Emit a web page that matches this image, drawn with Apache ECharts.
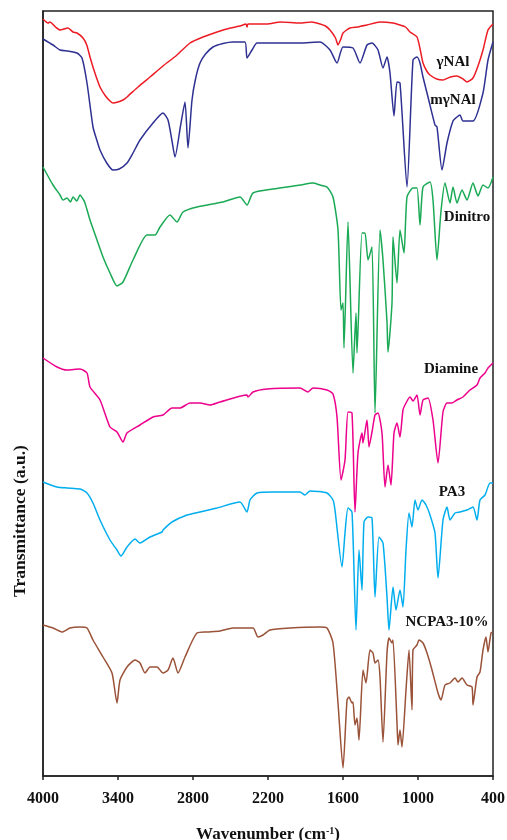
<!DOCTYPE html>
<html>
<head>
<meta charset="utf-8">
<script src="https://cdn.jsdelivr.net/npm/echarts@6/dist/echarts.min.js"></script>
<style>html,body{margin:0;padding:0;background:#fff}#c{width:507px;height:840px}</style>
</head>
<body>
<div id="c"></div>
<script>
// Wavenumber (cm-1) vs transmittance (arbitrary units, curves offset)
const xTicks = [4000, 3400, 2800, 2200, 1600, 1000, 400];
const seriesNames = ['γNAl', 'mγNAl', 'Dinitro', 'Diamine', 'PA3', 'NCPA3-10%'];

const gammaNAl = [[4000,151.4],[3960,150.6],[3944,150.8],[3900,149.8],[3864,149.2],[3800,149.6],[3760,148.8],[3728,148.6],[3680,147.6],[3650,146.2],[3624,143.8],[3590,141.0],[3544,137.8],[3500,136.0],[3460,134.9],[3440,134.6],[3400,134.8],[3360,135.2],[3328,135.8],[3240,137.8],[3144,139.8],[3040,142.0],[2928,144.2],[2824,146.6],[2720,147.8],[2608,148.8],[2500,149.6],[2424,150],[2376,150.4],[2368,149.8],[2360,150.4],[2208,150.4],[2100,150.8],[1944,150.6],[1850,150.8],[1784,150.4],[1740,150.0],[1704,149.2],[1660,147.6],[1640,146.2],[1620,147.2],[1600,148.6],[1544,149.6],[1480,149.8],[1408,150.2],[1304,150.8],[1200,150.6],[1144,150.2],[1100,149.8],[1064,148.8],[1008,147.8],[980,145.0],[960,142.6],[930,141.0],[904,140.2],[850,139.4],[800,139.2],[740,139.8],[688,140],[640,139.4],[608,138.8],[560,139.6],[520,142.0],[480,145.2],[440,149.2],[400,150.4]];

const mGammaNAl = [[4000,147.4],[3920,146.2],[3864,145.2],[3800,145.0],[3728,144.6],[3688,143.6],[3648,138.6],[3600,129.8],[3570,127.2],[3544,125.2],[3490,122.6],[3440,121.2],[3390,121.4],[3328,122.6],[3280,124.6],[3224,127.2],[3120,130.6],[3040,132.6],[3000,131.2],[2968,127.0],[2944,123.8],[2900,130.0],[2864,134.8],[2840,125.6],[2808,135.2],[2780,139.4],[2744,142.6],[2700,144.4],[2640,145.8],[2560,146.5],[2480,146.8],[2384,146.8],[2368,143.6],[2328,145.2],[2288,146.6],[2100,146.6],[1944,146.6],[1784,146.8],[1704,145.2],[1648,142.6],[1600,145.8],[1520,145.6],[1464,142.6],[1408,146.2],[1368,146.6],[1320,145.2],[1280,141.6],[1248,143.8],[1224,140.6],[1192,132],[1168,138.8],[1144,138.6],[1088,117.8],[1040,143.2],[1008,143.8],[984,142.6],[960,139.8],[920,135.8],[864,130.2],[848,129.8],[808,121.2],[768,126.6],[720,131],[688,131.8],[664,132.2],[640,131],[560,131],[480,136.6],[440,143.2],[400,146.8]];

const dinitro = [[4000,121.8],[3920,118.2],[3864,116.2],[3840,115.2],[3808,115.6],[3780,114.8],[3760,115.8],[3730,115.0],[3704,116.2],[3680,115.4],[3664,114.6],[3624,111.2],[3568,107.2],[3520,103.8],[3464,100.6],[3408,98],[3360,98.8],[3280,103.2],[3168,108.2],[3104,108.2],[3064,109.8],[2984,112.2],[2928,110.8],[2880,112.8],[2768,113.8],[2560,114.8],[2424,115.8],[2368,114.2],[2320,116.6],[2160,117.4],[1944,118.2],[1840,118.6],[1784,118.2],[1728,117.8],[1680,115.8],[1640,109.2],[1616,93.2],[1600,94.6],[1592,85.6],[1560,110.8],[1520,80.6],[1496,92.6],[1488,84.6],[1448,108.6],[1424,108.6],[1400,103.2],[1368,105.8],[1344,72.6],[1304,109.2],[1280,103.2],[1248,90.8],[1240,84.8],[1208,94.6],[1200,107.8],[1168,98.6],[1144,109.2],[1112,104.6],[1088,115.8],[1040,117.6],[1008,117.6],[984,110.2],[960,117.8],[904,118.8],[880,115.2],[848,103.2],[816,113],[784,118.6],[744,114.6],[720,117.8],[688,114.6],[648,117.2],[608,115.2],[560,118.6],[520,116],[480,118.2],[440,117.6],[400,119.8]];

const diamine = [[4000,83.6],[3888,81.8],[3808,81.2],[3704,81.4],[3648,80.6],[3624,77.8],[3544,75.2],[3464,69.8],[3408,68.8],[3360,66.8],[3328,68.6],[3224,70.2],[3120,71.8],[3040,72.2],[2968,73.6],[2904,73.6],[2824,74.6],[2744,74.6],[2664,74.2],[2584,74.8],[2368,76.2],[2360,75.8],[2320,76.8],[2208,77.4],[1944,77.6],[1880,76.8],[1840,77.6],[1728,77.2],[1680,76.4],[1648,71.8],[1616,59.2],[1584,63.2],[1560,72.8],[1528,72.6],[1504,52.8],[1480,64.6],[1448,68.6],[1440,66.6],[1408,71.2],[1392,65.8],[1368,68.8],[1344,72.2],[1320,72.6],[1288,68.6],[1264,57.8],[1240,62.2],[1216,58.2],[1192,68.6],[1168,70.6],[1144,67.8],[1120,73.2],[1096,74.6],[1064,75.8],[1040,75],[1008,76.2],[984,72.2],[960,75.2],[920,75.6],[880,71.2],[840,62.6],[800,72.8],[768,74.6],[728,74.6],[688,75.2],[640,75.8],[584,77.2],[528,78.2],[504,79.6],[464,80.6],[440,81.6],[400,82.6]];

const pa3 = [[4000,58.8],[3888,57.8],[3808,57.6],[3704,57.4],[3648,56.6],[3600,54.6],[3544,51.2],[3464,47.2],[3408,45.2],[3376,44],[3328,45.8],[3264,47.4],[3224,46.6],[3144,47.8],[3048,48.8],[3040,49.2],[2968,50.8],[2848,52.2],[2744,52.8],[2608,53.6],[2424,54.8],[2368,52.8],[2344,55.2],[2288,56.6],[2160,56.8],[1944,56.8],[1904,56.2],[1864,57],[1728,56.6],[1680,55.2],[1664,53.2],[1608,41.8],[1584,48.6],[1560,53.6],[1528,52.8],[1496,29.2],[1472,45.2],[1448,37.2],[1432,50.8],[1400,51.8],[1368,51.6],[1344,35.8],[1312,47.8],[1280,46.6],[1248,35.8],[1232,29.2],[1200,37.8],[1176,33.2],[1144,37.2],[1120,33.8],[1096,45.2],[1072,52.6],[1048,49.8],[1024,55.2],[1000,53.2],[968,55.2],[936,54.2],[904,52.2],[864,48.6],[840,39.6],[800,51.2],[768,53.8],[744,51.2],[704,52.6],[664,52.8],[608,53.2],[560,53.8],[528,51.2],[504,55.2],[464,56.2],[424,58.6],[400,58.6]];

const ncpa3 = [[4000,30.2],[3920,29.6],[3848,28.8],[3784,29.6],[3704,29.8],[3648,29.6],[3600,27.2],[3520,23.8],[3448,20.6],[3408,14.6],[3384,19.2],[3328,21.8],[3264,23.2],[3224,22.6],[3184,20.6],[3144,21.8],[3088,21.8],[3040,20.6],[3000,21.2],[2960,23.6],[2920,20.6],[2864,23.8],[2768,28.6],[2688,28.8],[2584,29],[2480,29.6],[2320,29.6],[2280,27.8],[2240,28.2],[2184,29.2],[2024,29.6],[1784,29.8],[1728,29.6],[1680,26.6],[1640,14.6],[1600,1.6],[1568,15.2],[1552,15.8],[1528,14.6],[1520,14.8],[1504,10.2],[1488,11.6],[1472,7.2],[1440,21.2],[1416,18.6],[1384,25.2],[1360,24.6],[1344,22.6],[1320,23.2],[1304,19.8],[1280,6.8],[1248,24.6],[1232,27.6],[1208,26.6],[1200,27.2],[1168,10.6],[1160,6.2],[1144,9.2],[1128,5.8],[1096,17.2],[1072,25.2],[1048,13.2],[1040,25.2],[1008,26.2],[992,27.2],[960,26.6],[928,24.6],[888,21.2],[840,16.6],[816,15.2],[784,18.2],[744,18.6],[704,19.6],[680,18.8],[648,19.6],[608,18.2],[568,17.8],[560,14.2],[528,19.8],[504,20.8],[480,25.2],[456,27.8],[440,24.8],[416,28.6],[400,28.8]];

const seriesData = [gammaNAl, mGammaNAl, dinitro, diamine, pa3, ncpa3];
const colors = ['#ED1C24', '#2E3192', '#1AAA55', '#EC008C', '#00AEEF', '#9A5238'];

const serif = '"Liberation Serif", "Times New Roman", serif';
const chart = echarts.init(document.getElementById('c'), null, {renderer: 'canvas'});

const labelPos = [[453, 62], [453, 100], [467, 217], [451, 369], [452, 492], [447, 622]];

chart.setOption({
  animation: false,
  backgroundColor: '#fff',
  grid: {left: 43, right: 14, top: 11, bottom: 64, show: true, borderColor: '#222', borderWidth: 1.5,
    backgroundColor: 'transparent', containLabel: false, outerBoundsMode: 'none'},
  xAxis: {
    type: 'value', inverse: true, min: 400, max: 4000, interval: 600,
    axisLine: {show: true, lineStyle: {color: '#222', width: 1.5}},
    axisTick: {show: true, inside: false, length: 4, lineStyle: {color: '#222', width: 1.5}},
    splitLine: {show: false},
    axisLabel: {
      margin: 15, color: '#111', fontFamily: serif, fontWeight: 'bold', fontSize: 16,
      formatter: v => xTicks.includes(v) ? String(v) : ''
    },
    name: '{a|Wavenumber (cm}{s|-1}{a|)}',
    nameLocation: 'middle', nameGap: 50,
    nameTextStyle: {
      rich: {
        a: {fontFamily: serif, fontWeight: 'bold', fontSize: 17, color: '#111'},
        s: {fontFamily: serif, fontWeight: 'bold', fontSize: 10, color: '#111', verticalAlign: 'top', padding: [0, 0, 8, 0]}
      }
    }
  },
  yAxis: {
    type: 'value', min: 0, max: 153,
    axisLine: {show: true, lineStyle: {color: '#222', width: 1.5}},
    axisTick: {show: false}, axisLabel: {show: false}, splitLine: {show: false}
  },
  series: seriesData.map((d, i) => ({
    name: seriesNames[i], type: 'line', data: d, showSymbol: false, symbol: 'none',
    lineStyle: {color: colors[i], width: 1.5}, smooth: 0.2
  })),
  graphic: [
    {type: 'text', x: 20, y: 521, rotation: Math.PI / 2,
      style: {text: 'Transmittance (a.u.)', font: 'bold 17.5px ' + serif, fill: '#111', textAlign: 'center', textVerticalAlign: 'middle'}}
  ].concat(seriesNames.map((n, i) => ({
    type: 'text', x: labelPos[i][0], y: labelPos[i][1],
    style: {text: n, font: 'bold 15px ' + serif, fill: '#111', textAlign: 'center', textVerticalAlign: 'middle'}
  })))
});
</script>
</body>
</html>
